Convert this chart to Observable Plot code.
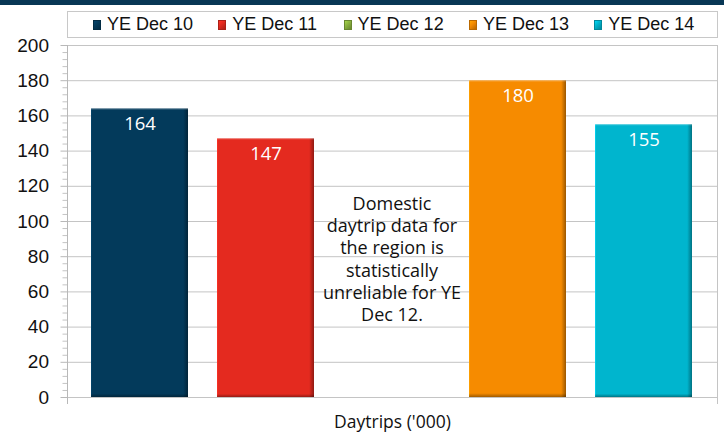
<!DOCTYPE html>
<html>
<head>
<meta charset="utf-8">
<script src="https://cdn.jsdelivr.net/npm/d3@7"></script>
<script src="https://cdn.jsdelivr.net/npm/@observablehq/plot@0.6"></script>
<style>
  body { margin: 0; background: #fff; }
  #wrap { position: relative; width: 724px; height: 432px; overflow: hidden; }
  #band { position: absolute; left: 0; top: 0; width: 724px; height: 5px; background: #083755; z-index: 3; }
  #legend { position: absolute; left: 67px; top: 11px; width: 649px; height: 25px; border: 1px solid #c8c8c8; background: #fff; z-index: 3; font-family: "Liberation Sans", Arial, sans-serif; font-size: 18px; color: #111; }
  .item { position: absolute; top: 0; height: 25px; display: flex; align-items: center; white-space: nowrap; }
  .sw { width: 8px; height: 10px; margin-right: 6px; box-sizing: border-box; }
  #chart { position: absolute; left: 0; top: 0; z-index: 1; }
</style>
</head>
<body>
<div id="wrap">
  <div id="band"></div>
  <div id="legend"></div>
  <div id="chart"></div>
</div>
<script>
const categories = ["YE Dec 10", "YE Dec 11", "YE Dec 12", "YE Dec 13", "YE Dec 14"];
const values = [164, 147, null, 180, 155];
const colors = ["#033a5b", "#e42a1f", "#8cb43f", "#f68b00", "#00b5ce"];
const yTicks = [0, 20, 40, 60, 80, 100, 120, 140, 160, 180, 200];
const minorTicks = d3.range(0, 201, 4).filter(v => v % 20 !== 0);
const noteCategory = "YE Dec 12";
const noteText = "Domestic\ndaytrip data for\nthe region is\nstatistically\nunreliable for YE\nDec 12.";
const xTitle = "Daytrips ('000)";

const data = categories.map((c, i) => ({category: c, value: values[i], color: colors[i], grad: `url(#grad${i})`}));
const bars = data.filter(d => d.value != null);

// legend (HTML)
const legend = document.getElementById("legend");
categories.forEach((c, i) => {
  const it = document.createElement("div");
  it.className = "item";
  it.style.left = (25 + i * 125.3) + "px";
  const sw = document.createElement("span");
  sw.className = "sw";
  sw.style.background = `linear-gradient(135deg, ${d3.color(colors[i]).brighter(0.5)} 0%, ${colors[i]} 40%, ${d3.color(colors[i]).darker(0.8)} 100%)`;
  sw.style.border = `1px solid ${d3.color(colors[i]).darker(0.8)}`;
  it.appendChild(sw);
  it.appendChild(document.createTextNode(c));
  legend.appendChild(it);
});

function gradients() {
  const defs = d3.create("svg:defs");
  colors.forEach((c, i) => {
    const g = defs.append("linearGradient").attr("id", "grad" + i)
      .attr("x1", 0).attr("x2", 1).attr("y1", 0).attr("y2", 0);
    g.append("stop").attr("offset", "0%").attr("stop-color", d3.color(c).brighter(0.5));
    g.append("stop").attr("offset", "1.5%").attr("stop-color", c);
    g.append("stop").attr("offset", "95%").attr("stop-color", c);
    g.append("stop").attr("offset", "100%").attr("stop-color", d3.color(c).darker(1.3));
  });
  const v = defs.append("linearGradient").attr("id", "shadeV")
    .attr("x1", 0).attr("x2", 0).attr("y1", 0).attr("y2", 1);
  v.append("stop").attr("offset", "0%").attr("stop-color", "#fff").attr("stop-opacity", 0.35);
  v.append("stop").attr("offset", "0.6%").attr("stop-color", "#fff").attr("stop-opacity", 0);
  v.append("stop").attr("offset", "98.8%").attr("stop-color", "#000").attr("stop-opacity", 0);
  v.append("stop").attr("offset", "100%").attr("stop-color", "#000").attr("stop-opacity", 0.35);
  return defs.node();
}

const chart = Plot.plot({
  width: 724,
  height: 432,
  marginLeft: 67,
  marginRight: 7,
  marginTop: 45,
  marginBottom: 35,
  style: {fontFamily: "'Liberation Sans', Arial, sans-serif", fontSize: "18px", background: "transparent", color: "#111"},
  x: {type: "band", domain: categories, range: [62, 722], padding: 0.2275, axis: null},
  y: {domain: [0, 200], axis: null},
  color: {type: "identity"},
  marks: [
    gradients,
    Plot.gridY(yTicks, {stroke: "#c4c4c4", strokeOpacity: 1}),
    Plot.axisY(minorTicks, {tickSize: 4.5, text: null, stroke: "#c4c4c4", strokeOpacity: 1, label: null}),
    Plot.axisY(yTicks, {tickSize: 6.5, tickPadding: 12, stroke: "#b8b8b8", strokeOpacity: 1, fill: "#111", fontSize: 19, letterSpacing: "0.6px", label: null}),
    Plot.frame({anchor: "left", stroke: "#b8b8b8", strokeOpacity: 1, insetBottom: -6}),
    Plot.frame({anchor: "right", stroke: "#c4c4c4", strokeOpacity: 1, insetBottom: -6}),
    Plot.barY(bars, {x: "category", y: "value", fill: "grad"}),
    Plot.barY(bars, {x: "category", y: "value", fill: "url(#shadeV)"}),
    Plot.text(bars, {x: "category", y: "value", text: d => String(d.value), fill: "white", fontSize: 18.5, fontFamily: "'Open Sans', sans-serif", dy: 15, lineAnchor: "middle"}),
    Plot.text([noteText], {x: () => noteCategory, y: () => 79, text: d => d, fontSize: 18, fontFamily: "'Open Sans', sans-serif", lineHeight: 1.24, lineAnchor: "middle", fill: "#111"}),
    Plot.text([xTitle], {frameAnchor: "bottom", text: d => d, dy: 24.5, lineAnchor: "middle", fontSize: 17.5, fontFamily: "'Open Sans', sans-serif", fill: "#111"})
  ]
});
document.getElementById("chart").appendChild(chart);
</script>
</body>
</html>
